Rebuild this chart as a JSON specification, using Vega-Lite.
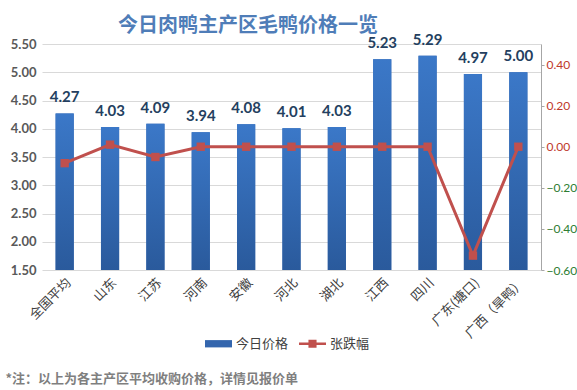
{
  "$schema": "https://vega.github.io/schema/vega-lite/v6.json",
  "width": 499,
  "height": 226,
  "autosize": {"type": "none"},
  "padding": {"left": 42, "top": 44, "right": 36, "bottom": 120},
  "background": "white",
  "config": {
    "view": {"stroke": null},
    "font": "Noto Sans CJK SC",
    "axis": {"labelOverlap": false}
  },
  "title": {
    "text": "今日肉鸭主产区毛鸭价格一览",
    "fontSize": 20,
    "fontWeight": "bold",
    "color": "#4F7DB8",
    "anchor": "start",
    "frame": "group",
    "dx": 76,
    "dy": 13,
    "offset": 10
  },
  "data": {
    "values": [
      {"region": "全国平均", "price": 4.27, "change": -0.08},
      {"region": "山东", "price": 4.03, "change": 0.01},
      {"region": "江苏", "price": 4.09, "change": -0.05},
      {"region": "河南", "price": 3.94, "change": 0.0},
      {"region": "安徽", "price": 4.08, "change": 0.0},
      {"region": "河北", "price": 4.01, "change": 0.0},
      {"region": "湖北", "price": 4.03, "change": 0.0},
      {"region": "江西", "price": 5.23, "change": 0.0},
      {"region": "四川", "price": 5.29, "change": 0.0},
      {"region": "广东(塘口)", "price": 4.97, "change": -0.53},
      {"region": "广西（旱鸭）", "price": 5.0, "change": 0.0}
    ]
  },
  "encoding": {
    "x": {
      "field": "region",
      "type": "nominal",
      "sort": null,
      "scale": {"paddingInner": 0.6, "paddingOuter": 0.3},
      "axis": {
        "title": "*注：以上为各主产区平均收购价格，详情见报价单",
        "titleFontSize": 13,
        "titleFontWeight": "bold",
        "titleColor": "#7F7F7F",
        "titleAnchor": "start",
        "titleAlign": "left",
        "titleBaseline": "middle",
        "titleX": -37,
        "titleY": 108,
        "labelAngle": -45,
        "labelFontSize": 13,
        "labelColor": "#404040",
        "labelAlign": "right",
        "labelBaseline": "top",
        "labelPadding": 6,
        "ticks": false,
        "domain": false
      }
    }
  },
  "layer": [
    {
      "layer": [
        {
          "mark": {"type": "bar", "orient": "vertical"},
          "encoding": {
            "y": {
              "field": "price",
              "type": "quantitative",
              "scale": {"domain": [1.5, 5.5], "zero": false, "nice": false},
              "axis": {
                "title": null,
                "values": [1.5, 2.0, 2.5, 3.0, 3.5, 4.0, 4.5, 5.0, 5.5],
                "tickCount": 20,
                "format": ".2f",
                "labelOverlap": false,
                "labelFont": "Lato",
                "labelFontSize": 13,
                "labelFontWeight": "bold",
                "labelColor": "#595959",
                "labelPadding": 6,
                "domain": false,
                "ticks": false,
                "gridColor": "#D9D9D9",
                "gridWidth": 1
              }
            },
            "y2": {"datum": 1.5},
            "fill": {
              "datum": "今日价格",
              "type": "nominal",
              "scale": {"domain": ["今日价格", "张跌幅"], "range": ["#3466AE", "#C0504D"]},
              "legend": {
                "title": null,
                "orient": "none",
                "legendX": 163,
                "legendY": 286,
                "direction": "horizontal",
                "labelFontSize": 13,
                "labelColor": "#404040",
                "symbolSize": 729,
                "columnPadding": 10,
                "labelOffset": 4,
                "encode": {
                  "symbols": {
                    "update": {
                      "shape": {"signal": "datum.value === '今日价格' ? 'M-1,-0.27H1V0.27H-1Z' : 'M-1,-0.09H1V0.09H-1Z M-0.3,-0.3H0.3V0.3H-0.3Z'"},
                      "strokeWidth": {"value": 0}
                    }
                  }
                }
              }
            }
          }
        },
        {
          "mark": {
            "type": "bar",
            "color": {
              "gradient": "linear",
              "x1": 0, "y1": 0, "x2": 0, "y2": 1,
              "stops": [
                {"offset": 0, "color": "#3B78C8"},
                {"offset": 1, "color": "#2A5A9C"}
              ]
            }
          },
          "encoding": {
            "y": {"field": "price", "type": "quantitative"},
            "y2": {"datum": 1.5}
          }
        },
        {
          "mark": {"type": "text", "baseline": "middle", "dy": -16, "font": "Lato", "fontSize": 15, "fontWeight": "bold", "color": "#243F60"},
          "encoding": {
            "y": {"field": "price", "type": "quantitative"},
            "text": {"field": "price", "type": "quantitative", "format": ".2f"}
          }
        }
      ]
    },
    {
      "layer": [
        {
          "mark": {"type": "line", "color": "#C0504D", "strokeWidth": 3},
          "encoding": {
            "y": {
              "field": "change",
              "type": "quantitative",
              "scale": {"domain": [-0.6, 0.5], "nice": false, "zero": false},
              "axis": {
                "orient": "right",
                "title": null,
                "values": [-0.6, -0.4, -0.2, 0, 0.2, 0.4],
                "tickCount": 20,
                "format": ".2f",
                "labelOverlap": false,
                "labelFont": "Lato",
                "labelFontSize": 12,
                "labelColor": {"condition": {"test": "datum.value < 0", "value": "#2E7D32"}, "value": "#C0392B"},
                "grid": false,
                "domain": true,
                "domainColor": "#A6A6A6",
                "ticks": true,
                "tickColor": "#A6A6A6",
                "tickSize": 3,
                "labelPadding": 2
              }
            }
          }
        },
        {
          "mark": {"type": "point", "shape": "square", "filled": true, "size": 70, "opacity": 1},
          "encoding": {
            "y": {"field": "change", "type": "quantitative"},
            "fill": {"datum": "张跌幅", "type": "nominal"}
          }
        }
      ]
    }
  ],
  "resolve": {"scale": {"y": "independent"}}
}
